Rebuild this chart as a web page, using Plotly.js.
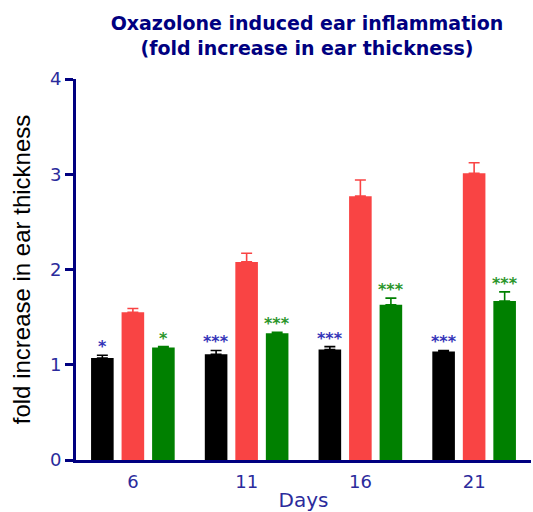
<!DOCTYPE html>
<html>
<head>
<meta charset="utf-8">
<script src="https://cdn.plot.ly/plotly-3.0.1.min.js"></script>
<style>html,body{margin:0;padding:0;background:#fff;}#chart{width:533px;height:512px;}</style>
</head>
<body>
<div id="chart"></div>
<script>
const days = ['6', '11', '16', '21'];
const blackVals = [1.07, 1.11, 1.16, 1.14];
const blackErr = [0.03, 0.04, 0.03, 0.01];
const redVals = [1.55, 2.08, 2.77, 3.01];
const redErr = [0.04, 0.09, 0.17, 0.11];
const greenVals = [1.18, 1.33, 1.63, 1.67];
const greenErr = [0.01, 0.01, 0.07, 0.095];
const blackSig = ['*', '***', '***', '***'];
const greenSig = ['*', '***', '***', '***'];
const yTicks = [0, 1, 2, 3, 4];

const NAVY = '#000080';
const TICKBLUE = '#2b2b9c';

function barTrace(vals, errs, color) {
  return {
    type: 'bar', x: days, y: vals,
    marker: {color: color, line: {width: 0}},
    error_y: {type: 'data', symmetric: false, array: errs, arrayminus: errs.map(() => 0),
              color: color, thickness: 1.6, width: 5.5},
    hoverinfo: 'skip', showlegend: false
  };
}

const traces = [
  barTrace(blackVals, blackErr, '#000000'),
  barTrace(redVals, redErr, '#f94444'),
  barTrace(greenVals, greenErr, '#008000')
];

const annotations = [];
days.forEach((d, i) => {
  annotations.push({x: i, y: blackVals[i] + blackErr[i], xref: 'x', yref: 'y', text: '<b>' + blackSig[i] + '</b>',
    showarrow: false, xshift: -30.5, yanchor: 'bottom', yshift: -3,
    font: {family: 'DejaVu Sans', size: 16, color: '#3434b8'}});
  annotations.push({x: i, y: greenVals[i] + greenErr[i], xref: 'x', yref: 'y', text: '<b>' + greenSig[i] + '</b>',
    showarrow: false, xshift: 30.5, yanchor: 'bottom', yshift: -3,
    font: {family: 'DejaVu Sans', size: 16, color: '#2a952a'}});
});

const layout = {
  width: 533, height: 512,
  margin: {l: 76, r: 2, t: 79, b: 52},
  paper_bgcolor: '#ffffff', plot_bgcolor: '#ffffff',
  barmode: 'group', bargap: 0.195, bargroupgap: 0.26,
  title: {
    text: '<b>Oxazolone induced ear inflammation<br>(fold increase in ear thickness)</b>',
    font: {family: 'DejaVu Sans', size: 19, color: NAVY},
    x: 307 / 533, xref: 'container', xanchor: 'center',
    y: 1 - 30 / 512, yref: 'container', yanchor: 'top'
  },
  xaxis: {
    type: 'category', range: [-0.5, 3.5], fixedrange: true,
    showline: true, linecolor: NAVY, linewidth: 3,
    ticks: '', showgrid: false, zeroline: false, ticklabelstandoff: 3,
    tickfont: {family: 'DejaVu Sans', size: 18, color: TICKBLUE},
    title: {text: 'Days', font: {family: 'DejaVu Sans', size: 20, color: TICKBLUE}, standoff: 14}
  },
  yaxis: {
    range: [0, 4], tickvals: yTicks, ticktext: yTicks.map(String),
    showline: true, linecolor: NAVY, linewidth: 3,
    ticks: 'outside', ticklen: 8, tickwidth: 3, tickcolor: NAVY,
    showgrid: false, zeroline: false,
    tickfont: {family: 'DejaVu Sans', size: 18, color: TICKBLUE},
    title: {text: 'fold increase in ear thickness', font: {family: 'Liberation Sans', size: 24, color: '#000000'}, standoff: 13}
  },
  annotations: annotations
};

Plotly.newPlot('chart', traces, layout, {displayModeBar: false, staticPlot: true});
</script>
</body>
</html>
